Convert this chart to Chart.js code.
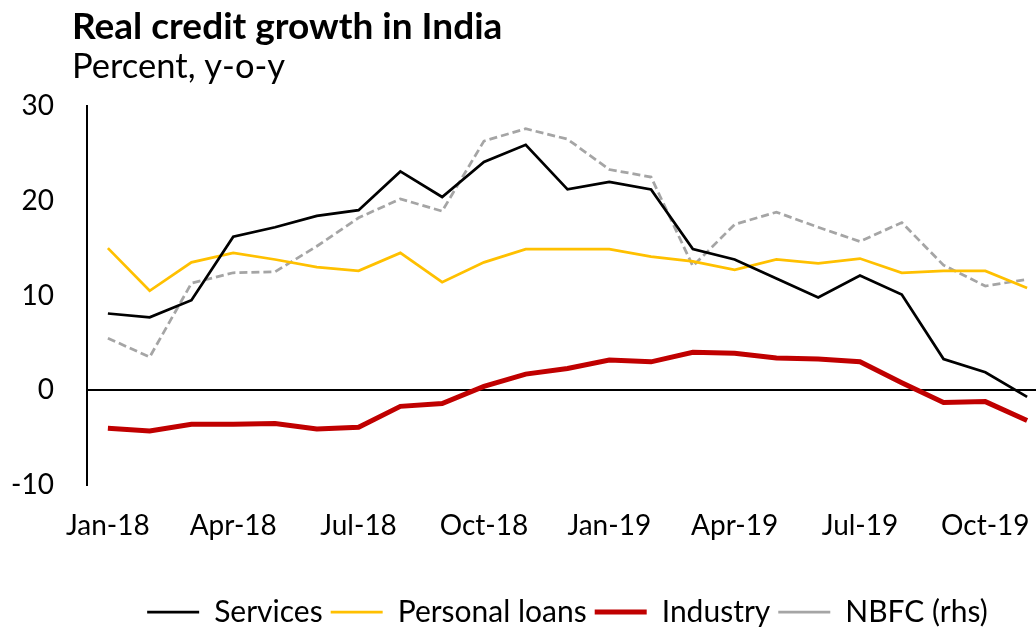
<!DOCTYPE html>
<html>
<head>
<meta charset="utf-8">
<script src="https://cdn.jsdelivr.net/npm/chart.js@4"></script>
<style>
  html, body { margin: 0; padding: 0; background: #fff; overflow: hidden; }
  #wrap { width: 1036px; height: 632px; position: relative; overflow: hidden; }
  #chart { display: block; }
</style>
</head>
<body>
<div id="wrap"><canvas id="chart" width="1048" height="632"></canvas></div>
<script>
// Monthly observations, Jan-2018 to Nov-2019
const months = ['Jan-18','Feb-18','Mar-18','Apr-18','May-18','Jun-18','Jul-18','Aug-18','Sep-18','Oct-18','Nov-18','Dec-18',
                'Jan-19','Feb-19','Mar-19','Apr-19','May-19','Jun-19','Jul-19','Aug-19','Sep-19','Oct-19','Nov-19'];

// Real credit growth, percent y-o-y
const services      = [8.1, 7.7, 9.5, 16.2, 17.2, 18.4, 19.0, 23.1, 20.4, 24.1, 25.9, 21.2, 22.0, 21.2, 14.9, 13.8, 11.8, 9.8, 12.1, 10.1, 3.3, 1.9, -0.7];
const personalLoans = [15.0, 10.5, 13.5, 14.5, 13.8, 13.0, 12.6, 14.5, 11.4, 13.5, 14.9, 14.9, 14.9, 14.1, 13.6, 12.7, 13.8, 13.4, 13.9, 12.4, 12.6, 12.6, 10.8];
const industry      = [-4.0, -4.3, -3.6, -3.6, -3.5, -4.1, -3.9, -1.7, -1.4, 0.4, 1.7, 2.3, 3.2, 3.0, 4.0, 3.9, 3.4, 3.3, 3.0, 0.8, -1.3, -1.2, -3.2];
const nbfc          = [5.5, 3.5, 11.3, 12.4, 12.5, 15.2, 18.2, 20.2, 18.9, 26.3, 27.6, 26.5, 23.3, 22.5, 13.1, 17.5, 18.8, 17.2, 15.7, 17.7, 13.2, 11.0, 11.7];

// Axis range and tick step (left and right axes share the range)
const yMin = -10;
const yMax = 30;
const yStep = 10;

const chartTitle = 'Real credit growth in India';
const chartSubtitle = 'Percent, y-o-y';

const FONT = 'Lato, "Open Sans", sans-serif';

// Heading drawn at the top-left corner of the canvas
const headingPlugin = {
  id: 'heading',
  afterDraw(chart) {
    const ctx = chart.ctx;
    ctx.save();
    ctx.fillStyle = '#000';
    ctx.textBaseline = 'alphabetic';
    ctx.textAlign = 'left';
    ctx.font = 'bold 37px ' + FONT;
    ctx.fillText(chartTitle, 72, 39);
    ctx.font = '34.5px ' + FONT;
    ctx.fillText(chartSubtitle, 72, 78);
    ctx.restore();
  }
};

new Chart(document.getElementById('chart'), {
  type: 'line',
  data: {
    labels: months,
    datasets: [
      { label: 'Services', data: services, borderColor: '#000000', backgroundColor: '#000000',
        borderWidth: 2.75, yAxisID: 'y' },
      { label: 'Personal loans', data: personalLoans, borderColor: '#FFC000', backgroundColor: '#FFC000',
        borderWidth: 2.75, yAxisID: 'y' },
      { label: 'Industry', data: industry, borderColor: '#C00000', backgroundColor: '#C00000',
        borderWidth: 5, yAxisID: 'y' },
      { label: 'NBFC (rhs)', data: nbfc, borderColor: '#A5A5A5', backgroundColor: '#A5A5A5',
        borderWidth: 2.75, borderDash: [8, 4], yAxisID: 'y1' }
    ]
  },
  options: {
    responsive: false,
    animation: false,
    devicePixelRatio: 1,
    layout: { padding: { top: 106, left: 0, right: 0, bottom: -5 } },
    elements: {
      point: { radius: 0, hoverRadius: 0 },
      line: { tension: 0, borderCapStyle: 'butt', borderJoinStyle: 'miter' }
    },
    scales: {
      x: {
        offset: true,
        afterFit(scale) {
          scale.paddingLeft = 0;
          scale.paddingRight = 0;
          scale.height = 104;
        },
        grid: { display: false, drawTicks: false },
        border: { display: false },
        ticks: {
          autoSkip: false,
          maxRotation: 0,
          minRotation: 0,
          padding: 24,
          color: '#000',
          font: { family: FONT, size: 28 },
          callback: function (value, index) {
            return index % 3 === 0 ? this.getLabelForValue(value) : '';
          }
        }
      },
      y: {
        min: yMin,
        max: yMax,
        position: 'left',
        afterFit(scale) { scale.width = 87; },
        grid: {
          drawTicks: false,
          lineWidth: 2,
          color: (ctx) => (ctx.tick && ctx.tick.value === 0 ? '#000' : 'rgba(0,0,0,0)')
        },
        border: { display: true, color: '#000', width: 2 },
        ticks: {
          stepSize: yStep,
          padding: 33,
          color: '#000',
          font: { family: FONT, size: 28 }
        }
      },
      y1: {
        min: yMin,
        max: yMax,
        position: 'right',
        display: false,
        grid: { display: false }
      }
    },
    plugins: {
      legend: {
        position: 'bottom',
        align: 'center',
        fullSize: false,
        labels: {
          usePointStyle: true,
          pointStyle: 'line',
          pointStyleWidth: 52,
          padding: 8,
          color: '#000',
          font: { family: FONT, size: 30 }
        }
      },
      title: { display: false },
      tooltip: { enabled: false }
    }
  },
  plugins: [headingPlugin]
});
</script>
</body>
</html>
